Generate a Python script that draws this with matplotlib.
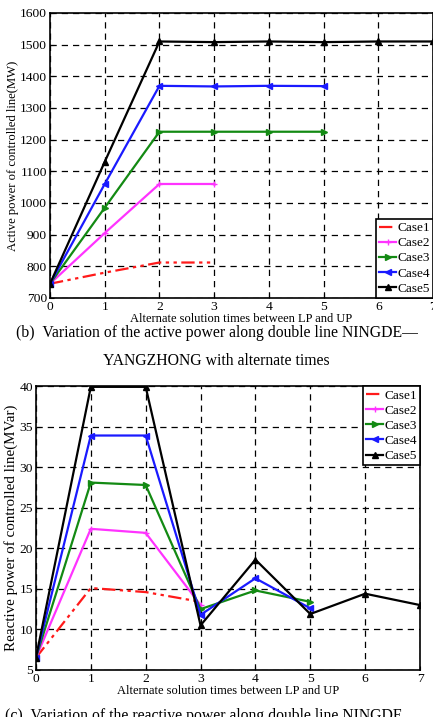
import matplotlib
matplotlib.use("Agg")
import matplotlib.pyplot as plt

plt.rcParams["font.family"] = ["Liberation Serif", "DejaVu Serif"]

# active power (MW), panel (b)
p_case1 = [745, 780, 812, 812]
p_case2 = [745, 905, 1060, 1060]
p_case3 = [745, 985, 1225, 1225, 1225, 1225]
p_case4 = [745, 1060, 1370, 1368, 1370, 1369]
p_case5 = [745, 1130, 1510, 1508, 1510, 1508, 1510, 1510]

# reactive power (MVar), panel (c)
q_case1 = [6.5, 15.1, 14.6, 13.4]
q_case2 = [6.5, 22.4, 21.9, 13.0]
q_case3 = [6.5, 28.1, 27.8, 12.5, 14.8, 13.4]
q_case4 = [6.5, 33.9, 33.9, 11.8, 16.3, 12.6]
q_case5 = [6.5, 39.9, 39.9, 10.5, 18.6, 11.9, 14.4, 13.0]

labels = ["Case1", "Case2", "Case3", "Case4", "Case5"]
styles = [
    dict(color="#ff1a1a", linestyle=(0, (6, 2, 1.5, 2, 1.5, 2)), marker=None),
    dict(color="#ff33ff", linestyle="-", marker="+", markersize=4),
    dict(color="#138a13", linestyle="-", marker=">", markersize=5),
    dict(color="#1a1aff", linestyle="-", marker="<", markersize=5),
    dict(color="black", linestyle="-", marker="^", markersize=5),
]

fig = plt.figure(figsize=(4.33, 7.17), dpi=100)


def draw(ax, series, ylim, yticks, ylabel, ylabel_size, legend_loc):
    for vals, lab, st in zip(series, labels, styles):
        ax.plot(range(len(vals)), vals, label=lab, linewidth=1.6, **st)
    ax.set_xlim(0, 7)
    ax.set_ylim(*ylim)
    ax.set_xticks(range(8))
    ax.set_yticks(yticks)
    ax.grid(True, color="black", linestyle=(0, (5, 4)), linewidth=0.9)
    ax.tick_params(direction="in", labelsize=9.7, pad=2, length=3)
    for s in ax.spines.values():
        s.set_linewidth(1.2)
    ax.set_xlabel("Alternate solution times between LP and UP", fontsize=9, labelpad=0)
    ax.set_ylabel(ylabel, fontsize=ylabel_size, labelpad=1)
    leg = ax.legend(loc=legend_loc, fontsize=9.5, handlelength=1.25, handletextpad=0.1,
                    labelspacing=0.22, borderpad=0.25, borderaxespad=0.0,
                    fancybox=False, framealpha=1)
    leg.get_frame().set_edgecolor("black")
    leg.get_frame().set_linewidth(1.2)


ax1 = fig.add_axes([0.1155, 0.5844, 0.8845, 0.3975])
draw(ax1, [p_case1, p_case2, p_case3, p_case4, p_case5], (700, 1600),
     range(700, 1601, 100), "Active power of controlled line(MW)", 9.1, "lower right")

fig.text(0.5, 0.536, "(b)  Variation of the active power along double line NINGDE\u2014",
         ha="center", va="center", fontsize=11.3)
fig.text(0.5, 0.497, "YANGZHONG with alternate times",
         ha="center", va="center", fontsize=11.3)

ax2 = fig.add_axes([0.083, 0.0656, 0.887, 0.396])
draw(ax2, [q_case1, q_case2, q_case3, q_case4, q_case5], (5, 40),
     range(5, 41, 5), "Reactive power of controlled line(MVar)", 10.8, "upper right")

fig.text(0.012, 0.002, "(c)  Variation of the reactive power along double line NINGDE",
         ha="left", va="center", fontsize=11.3)

fig.savefig("out.png", dpi=100)
